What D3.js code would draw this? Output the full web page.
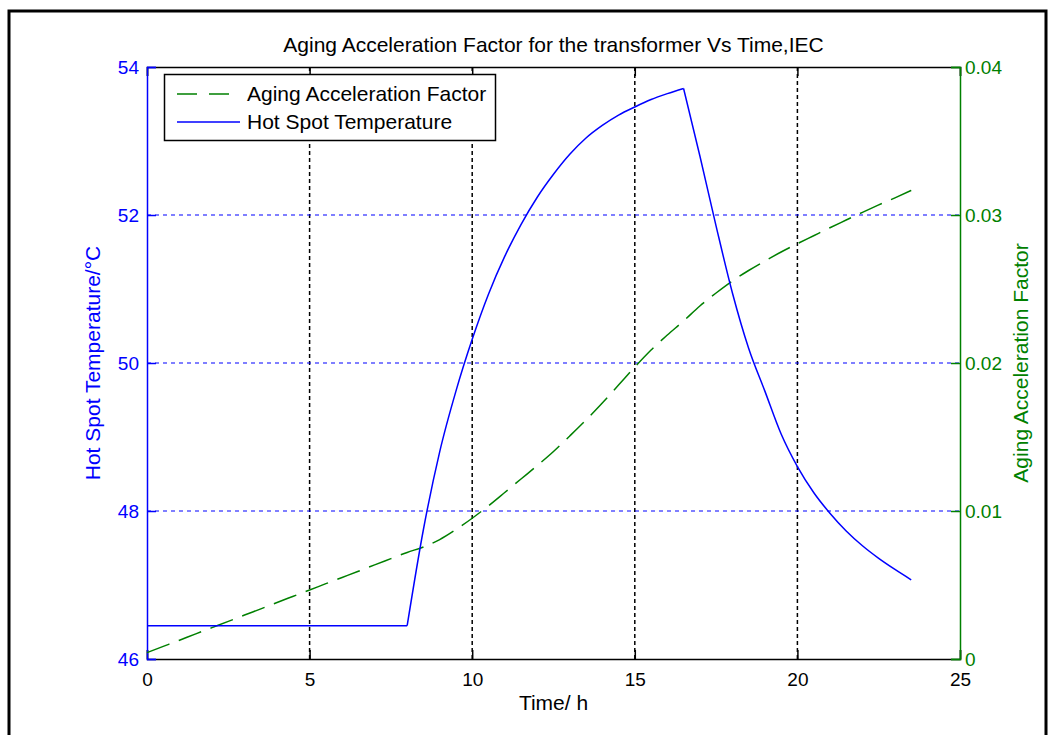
<!DOCTYPE html>
<html>
<head>
<meta charset="utf-8">
<script src="https://cdn.jsdelivr.net/npm/d3@7"></script>
<style>
  html, body { margin: 0; padding: 0; background: #fff; }
  svg text { font-family: "Liberation Sans", Arial, sans-serif; }
</style>
</head>
<body>
<svg id="chart" width="1051" height="735"></svg>
<script>
// ---- data ----
const timeHours = [0,0.5,1,1.5,2,2.5,3,3.5,4,4.5,5,5.5,6,6.5,7,7.5,8,8.5,9,9.5,10,10.5,11,11.5,12,12.5,13,13.5,14,14.5,15,15.5,16,16.5,17,17.5,18,18.5,19,19.5,20,20.5,21,21.5,22,22.5,23,23.5];
const hotSpotTemp = [46.45,46.45,46.45,46.45,46.45,46.45,46.45,46.45,46.45,46.45,46.45,46.45,46.45,46.45,46.45,46.45,46.45,47.75,48.8,49.62,50.32,50.93,51.44,51.87,52.24,52.55,52.82,53.04,53.21,53.35,53.46,53.56,53.64,53.71,52.8,51.85,50.95,50.2,49.62,49.04,48.6,48.25,47.97,47.73,47.53,47.36,47.21,47.07];
const agingFactor = [0.00043,0.00085,0.00127,0.0017,0.00212,0.00254,0.00297,0.00339,0.00382,0.00424,0.00466,0.00509,0.00551,0.00593,0.00636,0.00678,0.0072,0.00757,0.00807,0.00875,0.00951,0.01035,0.01125,0.01216,0.01307,0.01402,0.01507,0.01615,0.0173,0.01851,0.01973,0.02088,0.02189,0.02284,0.02385,0.02473,0.02554,0.02625,0.02689,0.0275,0.02806,0.0286,0.02914,0.02966,0.03018,0.03068,0.03116,0.03166];
const xTicks = [0,5,10,15,20,25];
const leftTicks = [46,48,50,52,54];
const rightTicks = [0,0.01,0.02,0.03,0.04];
const seriesNames = ["Aging Acceleration Factor","Hot Spot Temperature"];
const titleText = "Aging Acceleration Factor for the transformer Vs Time,IEC";
const xLabel = "Time/ h";
const leftLabel = "Hot Spot Temperature/°C";
const rightLabel = "Aging Acceleration Factor";
// load-change instants where the temperature curve has corners (h)
const breakTimes = [8, 16.5];

// ---- layout ----
const svg = d3.select("#chart");
const L = 147, R = 960, T = 67, B = 659;
const BLUE = "#0000ff", GREEN = "#008000", BLACK = "#000";
const fsTick = 19, fsText = 21;
const FONT = "Liberation Sans, Arial, sans-serif";

const x = d3.scaleLinear().domain([0,25]).range([L,R]);
const yL = d3.scaleLinear().domain([46,54]).range([B,T]);
const yR = d3.scaleLinear().domain([0,0.04]).range([B,T]);

// outer frame
svg.append("path").attr("d", `M9,735 V11 H1046 V735`).attr("fill","none").attr("stroke",BLACK).attr("stroke-width",3);

// grid
const grid = svg.append("g");
grid.selectAll("line.v").data(xTicks.filter(d => d > 0 && d < 25)).join("line")
  .attr("x1", d => x(d)).attr("x2", d => x(d)).attr("y1", T).attr("y2", B)
  .attr("stroke", BLACK).attr("stroke-width",1.5).attr("stroke-dasharray","4,3");
grid.selectAll("line.h").data(leftTicks.filter(d => d > 46 && d < 54)).join("line")
  .attr("x1", L).attr("x2", R).attr("y1", d => yL(d)).attr("y2", d => yL(d))
  .attr("stroke", BLUE).attr("stroke-width",1.2).attr("stroke-dasharray","4,4");

// axes
const tk = 9;
const xAxisB = d3.axisBottom(x).tickValues(xTicks).tickSize(-tk).tickPadding(14).tickFormat(d3.format("d"));
const gB = svg.append("g").attr("transform",`translate(0,${B})`).call(xAxisB);
const xAxisT = d3.axisTop(x).tickValues(xTicks).tickSize(-tk).tickFormat("");
const gT = svg.append("g").attr("transform",`translate(0,${T})`).call(xAxisT);
[gB,gT].forEach(g => {
  g.select(".domain").attr("stroke",BLACK).attr("stroke-width",1.5);
  g.selectAll(".tick line").attr("stroke",BLACK).attr("stroke-width",1.5);
  g.selectAll("text").attr("fill",BLACK).attr("font-size",fsTick).style("font-family",FONT);
});

const yAxisL = d3.axisLeft(yL).tickValues(leftTicks).tickSize(-tk).tickPadding(8).tickFormat(d3.format("d"));
const gL = svg.append("g").attr("transform",`translate(${L},0)`).call(yAxisL);
gL.select(".domain").attr("stroke",BLUE).attr("stroke-width",1.5);
gL.selectAll(".tick line").attr("stroke",BLUE).attr("stroke-width",1.5);
gL.selectAll("text").attr("fill",BLUE).attr("font-size",fsTick).style("font-family",FONT);

const yAxisR = d3.axisRight(yR).tickValues(rightTicks).tickSize(-tk).tickPadding(5).tickFormat(d => d === 0 ? "0" : d3.format(".2f")(d));
const gR = svg.append("g").attr("transform",`translate(${R},0)`).call(yAxisR);
gR.select(".domain").attr("stroke",GREEN).attr("stroke-width",1.5);
gR.selectAll(".tick line").attr("stroke",GREEN).attr("stroke-width",1.5);
gR.selectAll("text").attr("fill",GREEN).attr("font-size",fsTick).style("font-family",FONT);

// series
const rows = timeHours.map((t,i) => ({t, temp: hotSpotTemp[i], age: agingFactor[i]}));
svg.append("path").datum(rows)
  .attr("d", d3.line().x(d => x(d.t)).y(d => yR(d.age)).curve(d3.curveMonotoneX))
  .attr("fill","none").attr("stroke",GREEN).attr("stroke-width",1.5).attr("stroke-dasharray","24,10");
// temperature drawn piecewise so the corners at the load changes stay sharp
const bounds = [0, ...breakTimes, 25];
const tempLine = d3.line().x(d => x(d.t)).y(d => yL(d.temp)).curve(d3.curveMonotoneX);
const pieces = d3.range(bounds.length - 1).map(k => rows.filter(d => d.t >= bounds[k] && d.t <= bounds[k+1]));
svg.append("g").selectAll("path").data(pieces).join("path")
  .attr("d", tempLine)
  .attr("fill","none").attr("stroke",BLUE).attr("stroke-width",1.5).attr("stroke-linejoin","miter");

// title & labels
svg.append("text").attr("x",(L+R)/2).attr("y",52).attr("text-anchor","middle")
  .attr("font-size",fsText).attr("fill",BLACK).text(titleText);
svg.append("text").attr("x",(L+R)/2).attr("y",710).attr("text-anchor","middle")
  .attr("font-size",fsText).attr("fill",BLACK).text(xLabel);
svg.append("text").attr("transform",`translate(100,${(T+B)/2}) rotate(-90)`).attr("text-anchor","middle")
  .attr("font-size",fsText).attr("fill",BLUE).text(leftLabel);
svg.append("text").attr("transform",`translate(1028,${(T+B)/2}) rotate(-90)`).attr("text-anchor","middle")
  .attr("font-size",fsText).attr("fill",GREEN).text(rightLabel);

// legend
const lg = svg.append("g");
lg.append("rect").attr("x",164.5).attr("y",74.5).attr("width",331).attr("height",66)
  .attr("fill","#fff").attr("stroke",BLACK).attr("stroke-width",1.5);
const legendItems = [
  {name: seriesNames[0], color: GREEN, dash: "20,12", y: 94},
  {name: seriesNames[1], color: BLUE, dash: null, y: 122}
];
legendItems.forEach(it => {
  lg.append("line").attr("x1",177).attr("x2",240).attr("y1",it.y).attr("y2",it.y)
    .attr("stroke",it.color).attr("stroke-width",1.5).attr("stroke-dasharray",it.dash);
  lg.append("text").attr("x",247).attr("y",it.y+7).attr("font-size",fsText).attr("fill",BLACK).text(it.name);
});
</script>
</body>
</html>
